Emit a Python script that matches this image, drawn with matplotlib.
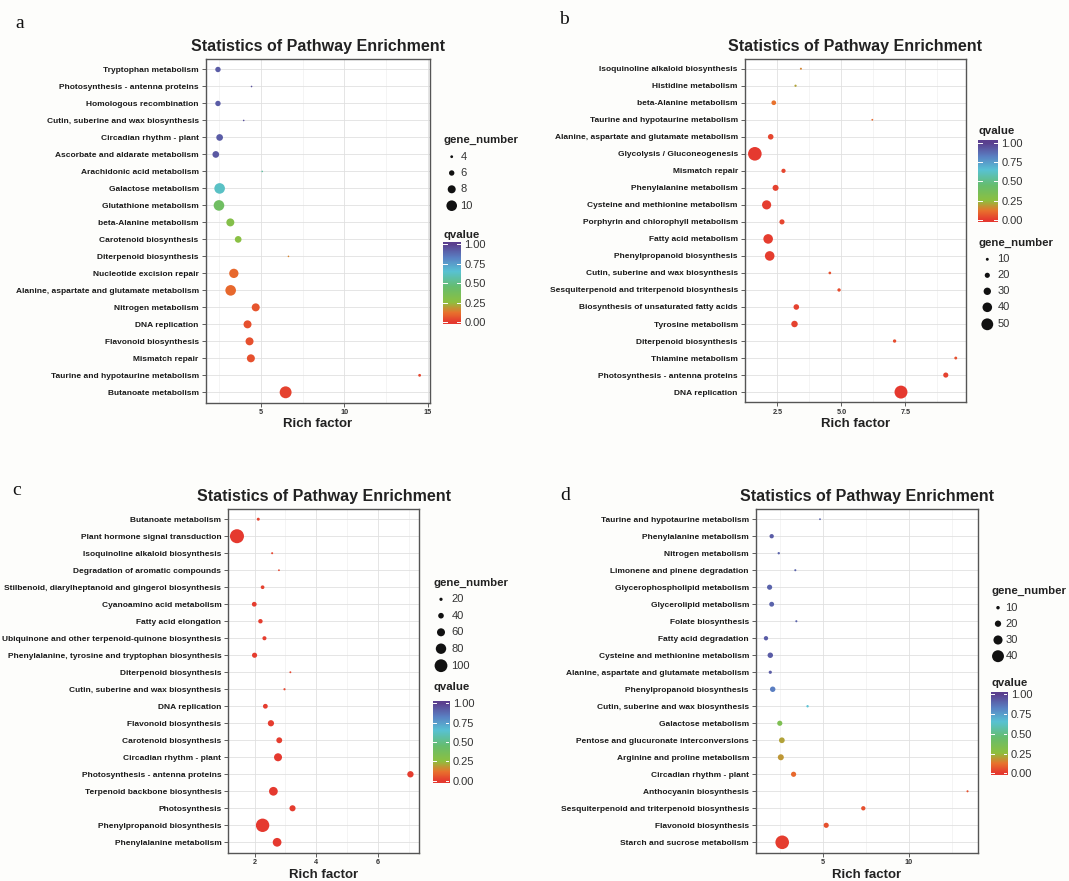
import numpy as np
import matplotlib
matplotlib.use("Agg")
import matplotlib.pyplot as plt
from matplotlib.colors import LinearSegmentedColormap

plt.rcParams["font.family"] = ["Liberation Sans", "DejaVu Sans"]

W, H, DPI = 1069, 881, 100

# ---------------- data ----------------
# panel a
a_pathways = ["Tryptophan metabolism", "Photosynthesis - antenna proteins", "Homologous recombination",
              "Cutin, suberine and wax biosynthesis", "Circadian rhythm - plant",
              "Ascorbate and aldarate metabolism", "Arachidonic acid metabolism", "Galactose metabolism",
              "Glutathione metabolism", "beta-Alanine metabolism", "Carotenoid biosynthesis",
              "Diterpenoid biosynthesis", "Nucleotide excision repair",
              "Alanine, aspartate and glutamate metabolism", "Nitrogen metabolism", "DNA replication",
              "Flavonoid biosynthesis", "Mismatch repair", "Taurine and hypotaurine metabolism",
              "Butanoate metabolism"]
a_rich = [2.43, 4.44, 2.43, 3.97, 2.53, 2.30, 5.08, 2.53, 2.49, 3.17, 3.64, 6.65, 3.38, 3.19, 4.69,
          4.20, 4.32, 4.40, 14.5, 6.48]
a_genes = [6, 3, 6, 3, 7, 7, 3, 10, 10, 8, 7, 3, 9, 10, 8, 8, 8, 8, 4, 11]
a_q = [0.92, 0.95, 0.92, 0.95, 0.92, 0.93, 0.55, 0.62, 0.40, 0.30, 0.27, 0.15, 0.10, 0.10, 0.06,
       0.05, 0.05, 0.05, 0.03, 0.02]
a_xticks = [5, 10, 15]
a_xticklabels = ["5", "10", "15"]
a_size_breaks = [4, 6, 8, 10]

# panel b
b_pathways = ["Isoquinoline alkaloid biosynthesis", "Histidine metabolism", "beta-Alanine metabolism",
              "Taurine and hypotaurine metabolism", "Alanine, aspartate and glutamate metabolism",
              "Glycolysis / Gluconeogenesis", "Mismatch repair", "Phenylalanine metabolism",
              "Cysteine and methionine metabolism", "Porphyrin and chlorophyll metabolism",
              "Fatty acid metabolism", "Phenylpropanoid biosynthesis",
              "Cutin, suberine and wax biosynthesis", "Sesquiterpenoid and triterpenoid biosynthesis",
              "Biosynthesis of unsaturated fatty acids", "Tyrosine metabolism",
              "Diterpenoid biosynthesis", "Thiamine metabolism", "Photosynthesis - antenna proteins",
              "DNA replication"]
b_rich = [3.42, 3.21, 2.36, 6.21, 2.24, 1.62, 2.74, 2.43, 2.08, 2.68, 2.14, 2.20, 4.55, 4.91, 3.24,
          3.17, 7.08, 9.47, 9.08, 7.33]
b_genes = [6, 7, 18, 5, 22, 58, 16, 24, 38, 20, 40, 40, 9, 12, 22, 26, 12, 10, 20, 55]
b_q = [0.15, 0.20, 0.12, 0.10, 0.03, 0.00, 0.03, 0.02, 0.01, 0.03, 0.01, 0.01, 0.05, 0.04, 0.02,
       0.02, 0.04, 0.05, 0.02, 0.00]
b_xticks = [2.5, 5.0, 7.5]
b_xticklabels = ["2.5", "5.0", "7.5"]
b_size_breaks = [10, 20, 30, 40, 50]

# panel c
c_pathways = ["Butanoate metabolism", "Plant hormone signal transduction",
              "Isoquinoline alkaloid biosynthesis", "Degradation of aromatic compounds",
              "Stilbenoid, diarylheptanoid and gingerol biosynthesis", "Cyanoamino acid metabolism",
              "Fatty acid elongation", "Ubiquinone and other terpenoid-quinone biosynthesis",
              "Phenylalanine, tyrosine and tryptophan biosynthesis", "Diterpenoid biosynthesis",
              "Cutin, suberine and wax biosynthesis", "DNA replication", "Flavonoid biosynthesis",
              "Carotenoid biosynthesis", "Circadian rhythm - plant", "Photosynthesis - antenna proteins",
              "Terpenoid backbone biosynthesis", "Photosynthesis", "Phenylpropanoid biosynthesis",
              "Phenylalanine metabolism"]
c_rich = [2.12, 1.43, 2.57, 2.79, 2.26, 1.99, 2.19, 2.32, 2.00, 3.16, 2.97, 2.35, 2.53, 2.80, 2.76,
          7.05, 2.61, 3.23, 2.26, 2.73]
c_genes = [18, 110, 10, 8, 24, 33, 30, 27, 36, 9, 11, 33, 45, 42, 60, 46, 66, 44, 105, 66]
c_q = [0.02, 0.00, 0.03, 0.03, 0.02, 0.01, 0.01, 0.01, 0.01, 0.03, 0.03, 0.01, 0.01, 0.01, 0.00,
       0.01, 0.00, 0.01, 0.00, 0.00]
c_xticks = [2, 4, 6]
c_xticklabels = ["2", "4", "6"]
c_size_breaks = [20, 40, 60, 80, 100]

# panel d
d_pathways = ["Taurine and hypotaurine metabolism", "Phenylalanine metabolism", "Nitrogen metabolism",
              "Limonene and pinene degradation", "Glycerophospholipid metabolism",
              "Glycerolipid metabolism", "Folate biosynthesis", "Fatty acid degradation",
              "Cysteine and methionine metabolism", "Alanine, aspartate and glutamate metabolism",
              "Phenylpropanoid biosynthesis", "Cutin, suberine and wax biosynthesis",
              "Galactose metabolism", "Pentose and glucuronate interconversions",
              "Arginine and proline metabolism", "Circadian rhythm - plant", "Anthocyanin biosynthesis",
              "Sesquiterpenoid and triterpenoid biosynthesis", "Flavonoid biosynthesis",
              "Starch and sucrose metabolism"]
d_rich = [4.84, 2.04, 2.45, 3.41, 1.92, 2.04, 3.47, 1.71, 1.96, 1.96, 2.10, 4.12, 2.51, 2.63, 2.57,
          3.31, 13.39, 7.35, 5.20, 2.65]
d_genes = [4, 13, 6, 5, 16, 15, 5, 13, 17, 9, 17, 6, 16, 18, 19, 16, 5, 13, 16, 46]
d_q = [0.90, 0.92, 0.90, 0.90, 0.90, 0.90, 0.90, 0.92, 0.92, 0.92, 0.83, 0.65, 0.33, 0.20, 0.18,
       0.10, 0.05, 0.05, 0.05, 0.01]
d_xticks = [5, 10]
d_xticklabels = ["5", "10"]
d_size_breaks = [10, 20, 30, 40]

q_breaks = [0.0, 0.25, 0.5, 0.75, 1.0]
q_labels = ["0.00", "0.25", "0.50", "0.75", "1.00"]

# ---------------- style ----------------
cmap = LinearSegmentedColormap.from_list(
    "qv", [(0.0, "#E5392F"), (0.12, "#E8732D"), (0.25, "#8EC03F"), (0.45, "#66BD6E"),
           (0.65, "#58C2D4"), (0.82, "#5A82C4"), (1.0, "#5A3F8E")])

fig = plt.figure(figsize=(W / DPI, H / DPI), dpi=DPI, facecolor="#FDFDFB")
ov = fig.add_axes([0, 0, 1, 1], zorder=0)
ov.set_xlim(0, W)
ov.set_ylim(H, 0)
ov.axis("off")
ov.patch.set_alpha(0)


def rect(x0, y0, x1, y1):
    return [x0 / W, 1 - y1 / H, (x1 - x0) / W, (y1 - y0) / H]


def size_pt2(n, p):
    d = p[2] + (p[3] - p[2]) * (np.asarray(n, float) - p[0]) / (p[1] - p[0])
    d = np.clip(d, 1.6, None)
    return (d * 72 / DPI) ** 2


panels = [
    dict(letter="a", letter_xy=(20, 23), names=a_pathways, rich=a_rich, genes=a_genes, q=a_q,
         ticks=a_xticks, tlabels=a_xticklabels, breaks=a_size_breaks,
         frame=(205.6, 59.3, 429.8, 402.5), title_y=46.5, xlab_y=424,
         sp=(4, 10, 2.8, 10.6),
         leg=dict(title_xy=(444, 140), ys=[156.7, 173, 189.3, 205.7], dot_x=451.7, lab_x=460.5),
         cb=dict(x0=443.3, x1=460.7, y1=244.3, y0=322.3, title_y=235.0)),
    dict(letter="b", letter_xy=(564, 20), names=b_pathways, rich=b_rich, genes=b_genes, q=b_q,
         ticks=b_xticks, tlabels=b_xticklabels, breaks=b_size_breaks,
         frame=(744.8, 58.5, 965.8, 402.3), title_y=46.5, xlab_y=424,
         sp=(5, 58, 1.8, 13.6),
         leg=dict(title_xy=(978.3, 242.7), ys=[259.3, 275.3, 291.3, 307.3, 324.3], dot_x=987.3,
                  lab_x=997.5),
         cb=dict(x0=978.3, x1=997.7, y1=142.7, y0=220.0, title_y=131.0)),
    dict(letter="c", letter_xy=(16.5, 490.7), names=c_pathways, rich=c_rich, genes=c_genes, q=c_q,
         ticks=c_xticks, tlabels=c_xticklabels, breaks=c_size_breaks,
         frame=(228.3, 509.0, 419.1, 852.5), title_y=496.7, xlab_y=875,
         sp=(8, 110, 1.8, 14.0),
         leg=dict(title_xy=(433.3, 583.3), ys=[599.3, 615.7, 632.3, 648.7, 665.7], dot_x=441,
                  lab_x=451.5),
         cb=dict(x0=433.3, x1=449.3, y1=703.3, y0=780.7, title_y=687.0)),
    dict(letter="d", letter_xy=(565, 495), names=d_pathways, rich=d_rich, genes=d_genes, q=d_q,
         ticks=d_xticks, tlabels=d_xticklabels, breaks=d_size_breaks,
         frame=(755.9, 509.0, 977.6, 852.5), title_y=496.7, xlab_y=875,
         sp=(4, 46, 1.8, 13.6),
         leg=dict(title_xy=(991, 590.7), ys=[607.7, 623.7, 640.0, 656.2], dot_x=998, lab_x=1005.5),
         cb=dict(x0=991, x1=1007.3, y1=694.3, y0=773.3, title_y=683.5)),
]

for P in panels:
    x0, y0, x1, y1 = P["frame"]
    ax = fig.add_axes(rect(x0, y0, x1, y1), zorder=2)
    ax.set_facecolor("white")
    n = len(P["names"])
    yy = np.arange(n)[::-1]
    ax.scatter(P["rich"], yy, s=size_pt2(P["genes"], P["sp"]), c=P["q"], cmap=cmap,
               vmin=0, vmax=1, edgecolors="none", zorder=3)
    ax.set_yticks(yy)
    ax.set_yticklabels(P["names"], fontsize=6, fontweight="bold", color="#1a1a1a")
    ax.set_xticks(P["ticks"])
    ax.set_xticklabels(P["tlabels"], fontsize=5.2, fontweight="bold", color="#333333")
    t = P["ticks"]
    step = t[1] - t[0]
    minor = [t[0] - step / 2 + k * step for k in range(len(t) + 2)]
    ax.set_xticks(minor, minor=True)
    lo, hi = min(P["rich"]), max(P["rich"])
    pad = 0.05 * (hi - lo)
    ax.set_xlim(lo - pad, hi + pad)
    ax.set_ylim(-0.6, n - 0.4)
    ax.grid(True, which="major", color="#E0E0E0", lw=0.6)
    ax.grid(True, which="minor", axis="x", color="#EFEFEF", lw=0.45)
    ax.set_axisbelow(True)
    ax.tick_params(which="minor", length=0)
    ax.tick_params(which="major", length=3, width=0.6, color="#444444", pad=2)
    for s in ax.spines.values():
        s.set_color("#555555")
        s.set_linewidth(1.0)
    cx = (x0 + x1) / 2
    ov.text(cx, P["title_y"], "Statistics of Pathway Enrichment", ha="center", va="center",
            fontsize=11.5, fontweight="bold", color="#222222")
    ov.text(cx, P["xlab_y"], "Rich factor", ha="center", va="center", fontsize=9.5,
            fontweight="bold", color="#222222")
    ov.text(P["letter_xy"][0], P["letter_xy"][1], P["letter"], ha="center", va="center",
            fontsize=14, family="Liberation Serif", color="#111111")

    # size legend
    L = P["leg"]
    ov.text(L["title_xy"][0], L["title_xy"][1], "gene_number", ha="left", va="center",
            fontsize=8.2, fontweight="bold", color="#222222")
    ov.scatter([L["dot_x"]] * len(P["breaks"]), L["ys"], s=size_pt2(P["breaks"], P["sp"]),
               c="#111111", edgecolors="none")
    for b, yv in zip(P["breaks"], L["ys"]):
        ov.text(L["lab_x"], yv, str(b), ha="left", va="center", fontsize=8, color="#333333")

    # colour bar
    C = P["cb"]
    ppu = C["y0"] - C["y1"]
    top = C["y1"] - 0.035 * ppu
    bot = C["y0"] + 0.025 * ppu
    cax = fig.add_axes(rect(C["x0"], top, C["x1"], bot), zorder=2)
    grad = np.linspace(-0.025, 1.035, 256)[:, None]
    cax.imshow(grad, cmap=cmap, vmin=0, vmax=1, aspect="auto", origin="lower",
               extent=[0, 1, -0.025, 1.035])
    cax.set_xlim(0, 1)
    cax.set_ylim(-0.025, 1.035)
    cax.set_xticks([])
    cax.yaxis.tick_right()
    cax.set_yticks(q_breaks)
    cax.set_yticklabels(q_labels, fontsize=8, color="#333333")
    cax.tick_params(axis="y", length=0, pad=2.5)
    for s in cax.spines.values():
        s.set_visible(False)
    for qb in q_breaks:
        cax.plot([0, 0.2], [qb, qb], color="white", lw=0.7)
        cax.plot([0.8, 1], [qb, qb], color="white", lw=0.7)
    ov.text(C["x0"], C["title_y"], "qvalue", ha="left", va="center", fontsize=8.2,
            fontweight="bold", color="#222222")

fig.savefig("out.png", dpi=DPI, facecolor=fig.get_facecolor())
